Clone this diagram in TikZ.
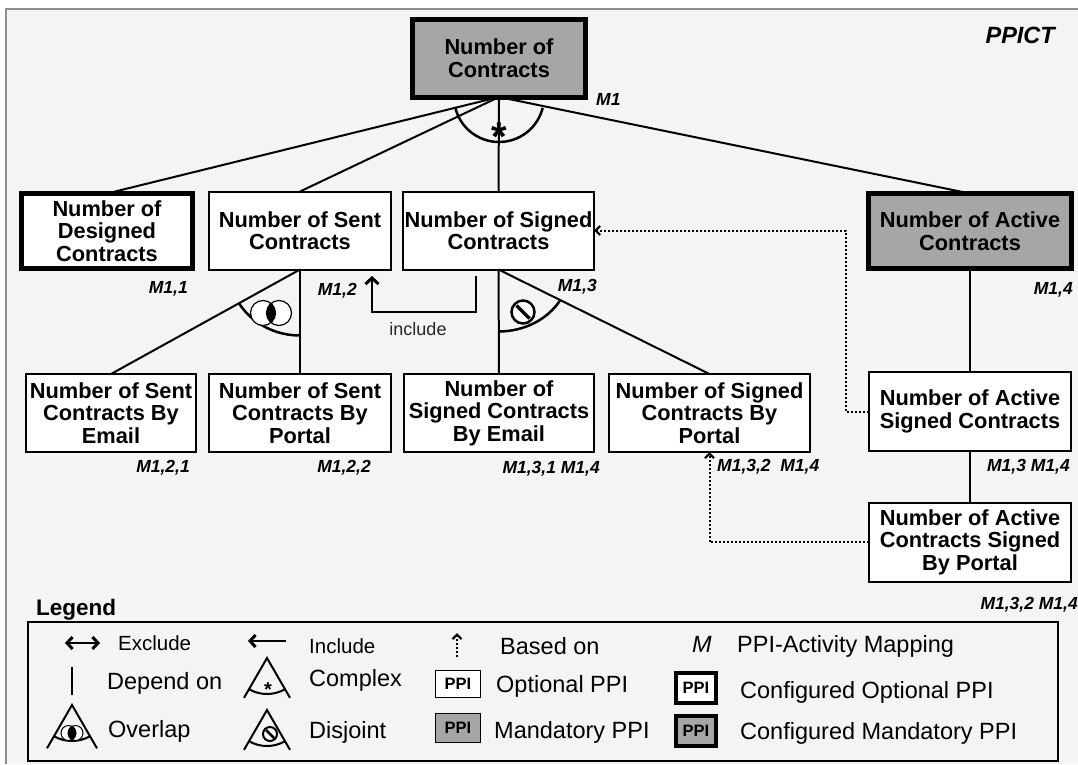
\documentclass[tikz,border=0pt]{standalone}
\usepackage{fontspec}
\setmainfont{Liberation Sans}
\usepackage{tikz}
\usetikzlibrary{arrows.meta,calc}
\definecolor{pback}{HTML}{F4F4F4}
\definecolor{pgrey}{HTML}{A6A6A6}
\definecolor{pframe}{HTML}{8E8E8E}
\tikzset{
  plegtip/.tip={Straight Barb[length=5.5pt,width=12pt,line width=3pt]},
  pbox/.style={draw=black, fill=white, line width=2pt, align=center,
               inner sep=0pt, outer sep=0pt,
               font=\fontsize{21.8}{22.5}\selectfont\bfseries},
  pcfg/.style={pbox, line width=5pt},
  pmand/.style={pcfg, fill=pgrey},
  plink/.style={black, line width=2pt},
  pgrp/.style={black, line width=2.5pt},
  pincl/.style={-{Straight Barb[length=6pt,width=13pt,line width=3pt]}, black, line width=2.5pt},
  pbased/.style={-{Straight Barb[length=4.5pt,width=9pt,line width=2.2pt]}, black, line width=2pt,
                 dash pattern=on 2pt off 2pt},
  pmap/.style={inner sep=0pt, font=\fontsize{17.5}{19}\selectfont\bfseries\itshape},
  plbl/.style={inner sep=0pt, anchor=base west, font=\fontsize{23.5}{25}\selectfont},
  psmall/.style={inner sep=0pt, anchor=base west, font=\fontsize{20.5}{22}\selectfont},
  pmini/.style={draw=black, fill=white, line width=1.5pt, inner sep=0pt, outer sep=0pt,
                font=\fontsize{16.5}{17}\selectfont\bfseries},
  plegarr/.style={black, line width=2.5pt},
  plegtri/.style={black, line width=2pt},
}

\begin{document}
\begin{tikzpicture}[x=1pt,y=1pt,yscale=-1]
  \useasboundingbox (0,0) rectangle (1078,764);

  % fundo e moldura
  \fill[white] (0,0) rectangle (1078,764);
  \fill[pback] (6,9) rectangle (1078,764);
  \draw[pframe, line width=2pt] (6,764) -- (6,9) -- (1078,9);
  \node[pmap, font=\fontsize{23.5}{25}\selectfont\bfseries\itshape, anchor=base east] (ppict) at (1055,43) {PPICT};

  % PPIs
  \node[pmand, minimum width=173pt, minimum height=78pt] (contr) at (499,58) {Number of\\Contracts};
  \node[pcfg, minimum width=171pt, minimum height=75pt] (designed) at (107,231) {Number of\\Designed\\Contracts};
  \node[pbox, minimum width=182pt, minimum height=78pt] (sent) at (300,230.5) {Number of Sent\\Contracts};
  \node[pbox, minimum width=191pt, minimum height=78pt] (signed) at (498.5,230.5) {Number of Signed\\Contracts};
  \node[pmand, minimum width=203pt, minimum height=75pt] (active) at (970,231) {Number of Active\\Contracts};
  \node[pbox, minimum width=170pt, minimum height=78pt] (sentmail) at (111,413) {Number of Sent\\Contracts By\\Email};
  \node[pbox, minimum width=182pt, minimum height=78pt] (sentportal) at (300,413) {Number of Sent\\Contracts By\\Portal};
  \node[pbox, minimum width=190pt, minimum height=78pt] (signedmail) at (499,413) {Number of\\Signed Contracts\\By Email};
  \node[pbox, minimum width=201pt, minimum height=78pt] (signedportal) at (709.5,413) {Number of Signed\\Contracts By\\Portal};
  \node[pbox, minimum width=202pt, minimum height=79pt] (activesigned) at (970,411.5) {Number of Active\\Signed Contracts};
  \node[pbox, minimum width=202pt, minimum height=79pt] (activeportal) at (970,542) {Number of Active\\Contracts Signed\\By Portal};

  % decomposicao complexa
  \draw[plink] (contr.south) -- (designed.north);
  \draw[plink] (contr.south) -- (sent.north);
  \draw[plink] (contr.south) -- (signed.north);
  \draw[plink] (contr.south) -- (active.north);
  \draw[pgrp] ([shift={(166:45)}]contr.south) arc[start angle=166, end angle=14, radius=45];
  \node[font=\fontsize{40}{40}\selectfont\bfseries] (cstar) at (499,137) {*};

  % sobreposicao
  \draw[plink] (sent.south) -- (sentmail.north);
  \draw[plink] (sent.south) -- (sentportal.north);
  \draw[pgrp] ([shift={(0,66)}]sent.south) arc[start angle=90, end angle=149.4, x radius=71, y radius=66];
  \draw[line width=1.2pt, fill=white] (263,313) circle[radius=12.5] (279,313) circle[radius=12.5];
  \begin{scope}
    \clip (263,313) circle[radius=12.5];
    \fill[black] (279,313) circle[radius=12.5];
  \end{scope}

  % disjuncao
  \draw[plink] (signed.south) -- (signedmail.north);
  \draw[plink] (signed.south) -- (signedportal.north);
  \draw[pgrp] ([shift={(0,62)}]signed.south) arc[start angle=90, end angle=29.4, x radius=71, y radius=62];
  \draw[line width=2.5pt, fill=white] (523,312) circle[radius=11.5];
  \draw[line width=3.5pt] (516.5,305.5) -- (529.5,318.5);

  % include
  \coordinate (incfrom) at (476,276);
  \coordinate (incto) at (372,276);
  \draw[pincl] (incfrom) -- (476,312) -| (incto);
  \node[font=\fontsize{18}{20}\selectfont, text=black!85] (incl) at (418,329) {include};

  % depende de / baseado em
  \draw[plink] (active.south) -- (activesigned.north);
  \draw[plink] (activesigned.south) -- (activeportal.north);
  \draw[pbased] (activesigned.west) -- ++(-23,0) |- (signed.east);
  \draw[pbased] (activeportal.west) -| (signedportal.south);

  % mapeamentos
  \node[pmap, anchor=base west] (m1) at (596,105) {M1};
  \node[pmap, anchor=base east] (m11) at (188,293) {M1,1};
  \node[pmap, anchor=base east] (m12) at (357,295) {M1,2};
  \node[pmap, anchor=base east] (m13) at (597,291) {M1,3};
  \node[pmap, anchor=base east] (m14) at (1073,294) {M1,4};
  \node[pmap, anchor=base east] (m121) at (190,472) {M1,2,1};
  \node[pmap, anchor=base east] (m122) at (371,472) {M1,2,2};
  \node[pmap, anchor=base east] (m131) at (600,473) {M1,3,1 M1,4};
  \node[pmap, anchor=base west] (m132) at (717,471) {M1,3,2\ \ M1,4};
  \node[pmap, anchor=base east] (m13b) at (1070,471) {M1,3 M1,4};
  \node[pmap, anchor=base east] (m132b) at (1078,609) {M1,3,2 M1,4};

  % legenda
  \node[inner sep=0pt, anchor=base west, font=\fontsize{22.5}{24}\selectfont\bfseries] (legtitle) at (36,615) {Legend};
  \draw[line width=2pt] (28,622) rectangle (1058,761);

  \draw[plegarr, plegtip-plegtip] (65,643) -- (100,643);
  \node[psmall] (lexcl) at (118,650) {Exclude};
  \draw[plegarr, plegtip-] (248,641) -- (286,641);
  \node[psmall] (lincl) at (309,653) {Include};
  \draw[pbased] (457,657) -- (457,633);
  \node[plbl] (lbased) at (500,654) {Based on};
  \node[plbl, font=\fontsize{23.5}{25}\selectfont\itshape] (lm) at (692,652) {M};
  \node[plbl] (lmap) at (737,652) {PPI-Activity Mapping};

  \draw[plegarr, line width=2.8pt] (72,667) -- (72,695);
  \node[plbl] (ldep) at (107,689) {Depend on};
  \node[plbl] (lcomp) at (309,686) {Complex};
  \node[pmini, minimum width=45pt, minimum height=27pt] (lopt) at (458,684) {PPI};
  \node[plbl] (lopttxt) at (496,692) {Optional PPI};
  \node[pmini, line width=4.5pt, minimum width=40pt, minimum height=30pt] (lcfgopt) at (696,688) {PPI};
  \node[plbl] (lcfgtxt) at (740,698) {Configured Optional PPI};

  \node[plbl] (lovl) at (108,737) {Overlap};
  \node[plbl] (ldis) at (309,738) {Disjoint};
  \node[pmini, fill=pgrey, minimum width=45pt, minimum height=29pt] (lman) at (458,728) {PPI};
  \node[plbl] (lmantxt) at (494,738) {Mandatory PPI};
  \node[pmini, fill=pgrey, line width=4.5pt, minimum width=40pt, minimum height=30pt] (lcfgman) at (696,731) {PPI};
  \node[plbl] (lcfgmantxt) at (740,739) {Configured Mandatory PPI};

  % simbolos da legenda
  \foreach \ax/\ay/\ll in {267/658/46, 72/705/50, 267/710/46}{
    \draw[plegtri] ($(\ax,\ay)+(120:\ll)$) -- (\ax,\ay) -- ($(\ax,\ay)+(60:\ll)$);
    \draw[plegtri] ($(\ax,\ay)+(120:36)$) arc[start angle=120, end angle=60, radius=36];
  }
  \node[font=\fontsize{20}{20}\selectfont\bfseries] (lstar) at (268,690) {*};
  \draw[line width=1pt, fill=white] (68.5,733) circle[radius=7.5] (75.5,733) circle[radius=7.5];
  \begin{scope}
    \clip (68.5,733) circle[radius=7.5];
    \fill[black] (75.5,733) circle[radius=7.5];
  \end{scope}
  \draw[line width=2pt, fill=white] (270,734) circle[radius=7];
  \draw[line width=2.5pt] (266,730) -- (274,738);

\end{tikzpicture}
\end{document}
